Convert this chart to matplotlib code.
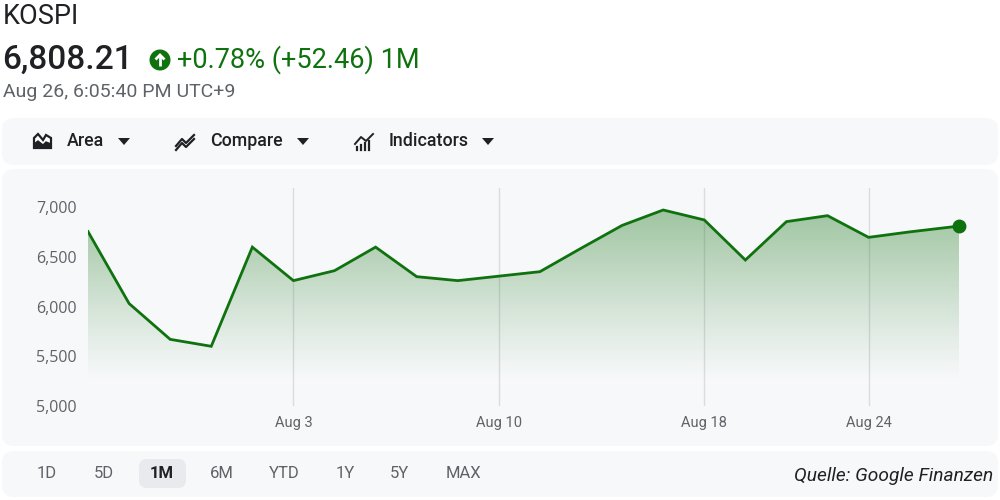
"""KOSPI 1M area chart in the style of the Google Finance widget."""

import matplotlib.pyplot as plt
import numpy as np
from matplotlib.patches import FancyBboxPatch, Circle, Polygon

# data (trading-session index -> close)
sessions = [0, 1, 2, 3, 4, 5, 6, 7, 8, 9, 10, 11, 12, 13, 14, 15, 16, 17, 18, 19, 20, 21.2]
closes = [6753, 6030, 5670, 5600, 6597, 6260, 6360, 6597, 6300, 6260, 6305,
          6350, 6585, 6815, 6970, 6870, 6467, 6853, 6913, 6695, 6750, 6808.21]
date_ticks = [5, 10, 15, 19]
date_labels = ["Aug 3", "Aug 10", "Aug 18", "Aug 24"]
y_ticks = [5000, 5500, 6000, 6500, 7000]
ranges = ["1D", "5D", "1M", "6M", "YTD", "1Y", "5Y", "MAX"]
tools = ["Area", "Compare", "Indicators"]

GREEN = "#0f720f"
PANEL = "#f7f8fa"
GREY = "#5f6368"
FONT = ["Roboto", "DejaVu Sans"]
WIDE = ["Open Sans", "Roboto", "DejaVu Sans"]
NARROW = ["Liberation Sans Narrow", "Roboto", "DejaVu Sans"]

plt.rcParams["font.family"] = FONT

fig = plt.figure(figsize=(10, 5), dpi=100)

# background layer in pixel coordinates
bg = fig.add_axes([0, 0, 1, 1])
bg.set_xlim(0, 1000)
bg.set_ylim(500, 0)
bg.axis("off")

for (x0, y0, w, h) in [(2, 118, 996, 47), (2, 169, 996, 277), (2, 451, 996, 46)]:
    bg.add_patch(FancyBboxPatch((x0, y0), w, h, boxstyle="round,pad=0,rounding_size=12",
                                fc=PANEL, ec="none"))

# header
bg.text(3, 17, "KOSPI", fontsize=19.5, color="#202124", va="center", ha="left")
bg.text(2, 60, "6,808.21", fontsize=24, color="#202124", va="center", ha="left",
        fontweight="medium")
bg.add_patch(Circle((160, 60), 10.5, fc=GREEN, ec="none"))
bg.plot([160, 160], [66, 55], color="white", lw=2, solid_capstyle="butt")
bg.plot([155.5, 160, 164.5], [59.5, 55, 59.5], color="white", lw=2,
        solid_joinstyle="miter", solid_capstyle="butt")
bg.text(177, 60, "+0.78% (+52.46) 1M", fontsize=19.5, color=GREEN, va="center", ha="left")
bg.text(3, 92, "Aug 26, 6:05:40 PM UTC+9", fontsize=14, color=GREY, va="center", ha="left")

# toolbar
tool_x = [67, 210, 389]
tri_x = [124, 303, 488]
for name, tx, trx in zip(tools, tool_x, tri_x):
    bg.text(tx, 141, name, fontsize=12.8, color="#202124", va="center", ha="left",
            fontweight="medium")
    bg.add_patch(Polygon([(trx - 6, 138), (trx + 6, 138), (trx, 145)], fc="#202124"))

# area icon
bg.add_patch(Polygon([(34, 148), (34, 138), (38, 134), (43, 140), (46, 135), (51, 138), (51, 148)],
                     fc="white", ec="#202124", lw=1.6))
bg.add_patch(Polygon([(34, 148), (34, 144), (38, 141), (43, 145), (46, 142), (51, 144), (51, 148)],
                     fc="#202124", ec="#202124", lw=1))
# compare icon
bg.plot([176, 182, 186, 194], [146, 139, 143, 135], color="#202124", lw=1.6)
bg.plot([176, 182, 186, 194], [150, 143, 147, 139], color="#202124", lw=1.6)
# indicators icon
for i, hgt in enumerate([3, 5, 7, 9]):
    bg.plot([357 + i * 4, 357 + i * 4], [150, 150 - hgt], color="#202124", lw=1.6)
bg.plot([355, 361, 366, 373], [144, 137, 141, 134], color="#202124", lw=1.4)

# range buttons
range_x = [47, 104, 162, 222, 284, 345, 399, 463]
bg.add_patch(FancyBboxPatch((139, 459), 47, 29, boxstyle="round,pad=0,rounding_size=8",
                            fc="#e8eaed", ec="none"))
for lab, rx in zip(ranges, range_x):
    sel = lab == "1M"
    bg.text(rx, 473, lab, fontsize=12, family=NARROW, ha="center", va="center",
            color="#202124" if sel else GREY, fontweight="bold" if sel else "normal")
bg.text(993, 476, "Quelle: Google Finanzen", fontsize=13.8, family=NARROW, style="italic",
        color="#202124", ha="right", va="center")

# chart
ax = fig.add_axes([88 / 1000, 1 - 406 / 500, 871 / 1000, 218 / 500])
ax.set_facecolor("none")
ax.set_xlim(0, sessions[-1])
ax.set_ylim(5000, 7191)

base = 5250
poly = ax.fill_between(sessions, closes, base, color="none", lw=0)
grad = np.linspace(0, 1, 256)
rgba = np.zeros((256, 1, 4))
rgba[..., 0] = 0.12
rgba[..., 1] = 0.48
rgba[..., 2] = 0.12
rgba[:, 0, 3] = 0.42 * grad ** 1.1
img = ax.imshow(rgba, extent=[0, sessions[-1], base, 7000], origin="lower",
                aspect="auto", zorder=1, interpolation="bilinear")
img.set_clip_path(poly.get_paths()[0], transform=ax.transData)

ax.plot(sessions, closes, color=GREEN, lw=2, zorder=3, solid_joinstyle="miter")
ax.plot(sessions[-1], closes[-1], "o", color=GREEN, ms=9, zorder=4, clip_on=False)

ax.set_xticks(date_ticks, date_labels)
ax.set_yticks(y_ticks, [f"{v:,}" for v in y_ticks])
ax.tick_params(axis="both", length=0, colors=GREY)
ax.tick_params(axis="y", pad=8, labelsize=11.5)
ax.tick_params(axis="x", pad=7, labelsize=10.5)
for lab in ax.get_yticklabels():
    lab.set_family(WIDE)
ax.grid(axis="x", color="#dadce0", lw=1)
ax.set_axisbelow(True)
for s in ax.spines.values():
    s.set_visible(False)

fig.savefig("out.png", dpi=100)
